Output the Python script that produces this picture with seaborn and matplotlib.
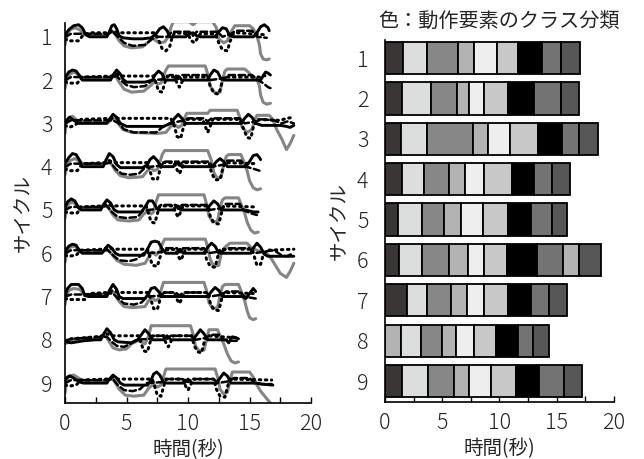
import numpy as np
import pandas as pd
import matplotlib
matplotlib.use("Agg")
import matplotlib.pyplot as plt
import seaborn as sns

# ---------------------------------------------------------------
# Sensor traces per cycle: (time [s], amplitude) pairs, amplitude > 0 is up
# ---------------------------------------------------------------
black_c1 = [(0,2),(0.3,7),(0.7,11),(1.1,12),(1.4,9),(1.7,2),(2.0,0),(3.4,0),(3.6,5),(3.8,11),(4.0,12),(4.2,8),(4.4,1),(4.7,-1),(5.5,-2),(6.3,-2),(7.0,-1),(7.4,3),(7.7,8),(8.0,10),(8.3,6),(8.5,0),(9.8,0),(10.1,3),(10.4,4),(10.7,1),(11.0,0),(12.2,0),(12.5,5),(12.8,9),(13.1,8),(13.4,1),(13.7,0),(15.3,0),(15.6,4),(15.9,10),(16.2,12),(16.5,9),(16.6,6)]
gray_c1 = [(0,-8),(0.15,0),(0.4,7),(0.8,9),(1.2,7),(1.6,2),(2.5,2),(3.4,2),(3.8,6),(4.1,2),(4.4,-4),(4.8,-9),(5.4,-11),(6.3,-10),(6.7,-6),(7.1,-1),(7.4,-4),(7.7,-6),(8.1,-5),(8.4,0),(8.6,9),(8.8,15),(10.1,15),(10.4,12),(10.7,15),(12.0,15),(12.3,9),(12.5,-2),(12.9,-6),(13.2,-4),(13.5,5),(13.8,11),(15.0,11),(15.3,8),(15.6,1),(15.8,-8),(15.9,-17),(16.1,-22),(16.4,-23),(16.6,-22)]
dotted_c1 = [(0,-2),(0.3,-4),(1.1,-4),(1.5,2),(2.0,4),(3.5,4),(3.9,6),(4.3,4),(7.3,4),(7.6,-3),(7.9,-12),(8.2,-14),(8.5,-10),(8.7,-1),(8.9,4),(10.0,3),(10.2,-3),(10.5,-6),(10.8,-1),(11.0,3),(12.2,3),(12.5,-6),(12.8,-13),(13.2,-14),(13.4,-5),(13.7,3),(14.0,4),(16.3,2)]
dashed_c1 = [(0,0),(0.5,3),(1.6,3),(3.5,3),(3.9,5),(4.3,0),(4.8,-6),(5.5,-9),(6.5,-8),(7.1,-2),(7.5,0),(8.3,0),(8.7,5),(10.1,5),(10.4,1),(10.7,5),(12.4,5),(12.8,0),(13.5,3),(13.9,6),(15.2,6),(15.6,0),(16.4,-1)]

black_c2 = [(0,2),(0.3,8),(0.6,10),(0.9,9),(1.2,4),(1.4,0),(3.7,0),(3.9,5),(4.2,10),(4.5,6),(4.7,1),(5.0,-2),(6.5,-2),(7.1,0),(7.3,5),(7.6,9),(7.9,6),(8.1,0),(8.9,0),(9.2,4),(9.5,0),(11.6,0),(11.8,5),(12.1,10),(12.4,8),(12.7,1),(13.0,0),(15.9,0),(16.1,4),(16.3,8),(16.5,7),(16.7,5)]
gray_c2 = [(0,-8),(0.15,0),(0.4,6),(0.8,8),(1.2,4),(1.5,2),(3.7,2),(4.1,4),(4.4,-2),(4.8,-9),(5.4,-12),(6.4,-11),(7.0,-5),(7.3,-1),(7.5,-4),(7.8,-3),(8.0,4),(8.2,10),(8.4,14),(11.4,14),(11.6,6),(11.8,-6),(12.2,-13),(12.6,-12),(12.8,0),(13.0,9),(13.2,11),(14.6,11),(14.9,8),(15.3,2),(15.6,1),(15.8,-6),(15.9,-15),(16.1,-22),(16.4,-24),(16.7,-23)]
dotted_c2 = [(0,-2),(0.3,-3),(1.0,-3),(1.4,3),(3.8,4),(4.2,6),(4.5,4),(7.2,4),(7.4,-3),(7.6,-11),(7.9,-12),(8.1,-3),(8.3,4),(8.9,3),(9.1,-3),(9.3,-7),(9.5,-2),(9.7,3),(11.6,3),(11.8,-6),(12.1,-13),(12.5,-14),(12.7,-5),(12.9,3),(15.8,3),(16.1,5),(16.5,3)]
dashed_c2 = [(0,0),(0.5,3),(3.8,3),(4.2,4),(4.6,-1),(5.0,-5),(5.6,-7),(6.5,-6),(7.1,0),(8.2,1),(8.5,5),(9.0,5),(9.2,1),(9.5,5),(11.5,5),(11.8,0),(13.0,2),(13.3,5),(15.2,5),(15.7,0),(16.1,-3),(16.5,-7),(16.7,-8)]

black_c3 = [(0,0),(0.2,4),(0.4,6),(0.7,3),(1.1,0),(3.4,0),(3.6,4),(3.9,9),(4.2,6),(4.5,0),(5.0,-3),(8.0,-3),(8.6,0),(8.9,5),(9.2,9),(9.5,5),(9.8,0),(14.3,0),(14.6,5),(14.9,9),(15.2,6),(15.5,0),(16.0,-2),(17.5,-2),(18.0,-3),(18.3,-4),(18.6,-2)]
gray_c3 = [(0,-10),(0.1,0),(0.3,6),(0.6,7),(1.0,3),(1.5,1),(3.5,1),(3.9,5),(4.3,0),(4.7,-6),(5.4,-9),(7.5,-10),(8.2,-9),(8.6,-3),(8.9,-1),(9.2,-4),(9.5,-2),(9.7,5),(9.9,10),(11.6,10),(11.8,13),(14.0,13),(14.2,6),(14.4,-4),(14.8,-9),(15.2,-6),(15.4,3),(15.6,8),(16.6,8),(16.9,4),(17.2,-6),(17.6,-15),(18.0,-26),(18.3,-20),(18.6,-12)]
dotted_c3 = [(0,-2),(0.3,-4),(0.8,-2),(1.3,4),(3.8,5),(4.3,5),(8.6,5),(8.9,-3),(9.1,-13),(9.4,-15),(9.6,-5),(9.9,4),(11.2,4),(11.4,-3),(11.6,-9),(11.8,-3),(12.0,4),(14.2,4),(14.5,-5),(14.8,-14),(15.1,-15),(15.3,-4),(15.6,4),(17.5,3),(18.0,5),(18.6,6)]
dashed_c3 = [(0,0),(0.5,3),(3.8,3),(4.3,1),(4.8,-6),(5.6,-9),(7.4,-9),(7.9,-4),(8.5,0),(9.7,3),(10.0,5),(11.3,5),(11.6,2),(11.9,5),(14.2,5),(14.6,0),(15.6,2),(16.0,4),(17.0,3),(17.6,0),(18.1,2),(18.6,0)]

black_c4 = [(0,3),(0.3,9),(0.6,13),(0.9,12),(1.2,6),(1.4,0),(3.1,0),(3.3,6),(3.6,13),(3.9,10),(4.2,2),(4.5,-1),(6.3,-1),(6.7,2),(6.9,7),(7.2,10),(7.5,6),(7.8,0),(8.8,0),(9.0,4),(9.2,5),(9.5,0),(12.0,0),(12.3,5),(12.6,8),(12.9,5),(13.2,0),(14.7,0),(15.0,5),(15.3,11),(15.6,12),(15.8,9),(15.9,7)]
gray_c4 = [(0,-8),(0.15,0),(0.4,6),(0.8,8),(1.2,5),(1.5,3),(3.1,3),(3.5,6),(3.8,2),(4.1,-4),(4.5,-9),(5.2,-11),(6.3,-10),(6.7,-4),(7.0,-1),(7.2,-4),(7.5,-3),(7.7,4),(7.9,12),(8.1,16),(11.6,16),(11.9,6),(12.1,-6),(12.4,-12),(12.7,-10),(12.9,2),(13.1,10),(13.3,12),(14.3,12),(14.5,6),(14.8,-4),(15.0,-14),(15.3,-21),(15.6,-23),(15.9,-22)]
dotted_c4 = [(0,-2),(0.3,-4),(1.0,-4),(1.4,3),(3.2,4),(3.6,6),(4.0,4),(6.7,4),(6.9,-4),(7.1,-12),(7.5,-13),(7.7,-4),(7.9,4),(8.9,4),(9.1,-3),(9.3,-7),(9.5,-2),(9.7,4),(11.7,4),(11.9,-6),(12.2,-13),(12.6,-13),(12.8,-3),(13.0,4),(15.5,3)]
dashed_c4 = [(0,0),(0.5,3),(3.3,3),(3.7,4),(4.1,-2),(4.6,-7),(5.3,-8),(6.0,-7),(6.5,-1),(7.0,0),(7.8,1),(8.1,5),(9.0,5),(9.3,1),(9.6,5),(11.7,5),(12.0,0),(12.9,2),(13.2,6),(14.3,6),(14.7,0),(15.3,-2),(15.8,-4)]

black_c5 = [(0,2),(0.2,8),(0.5,11),(0.8,9),(1.1,2),(1.3,0),(2.9,0),(3.1,5),(3.4,10),(3.7,7),(4.0,0),(4.3,-2),(6.2,-2),(6.5,3),(6.8,9),(7.1,9),(7.4,3),(7.6,0),(8.8,0),(9.0,3),(9.2,4),(9.4,0),(11.5,0),(11.8,5),(12.1,9),(12.4,6),(12.7,0),(14.6,0),(15.0,-1),(15.3,-2),(15.7,-2)]
gray_c5 = [(0,-8),(0.1,0),(0.3,6),(0.6,8),(1.0,4),(1.3,2),(2.9,2),(3.3,5),(3.6,1),(3.9,-5),(4.3,-10),(5.2,-11),(6.0,-10),(6.4,-4),(6.8,-1),(7.0,-4),(7.2,-2),(7.4,8),(7.6,15),(11.3,15),(11.5,6),(11.7,-6),(12.0,-12),(12.4,-11),(12.6,2),(12.8,10),(13.0,12),(14.1,12),(14.3,6),(14.6,-3),(14.8,-12),(15.1,-20),(15.4,-23),(15.7,-22)]
dotted_c5 = [(0,-2),(0.3,-3),(1.0,-3),(1.3,3),(3.0,4),(3.4,6),(3.8,4),(6.6,4),(6.8,-4),(7.0,-12),(7.3,-13),(7.5,-4),(7.7,4),(8.8,4),(9.0,-3),(9.2,-7),(9.4,-2),(9.6,4),(11.6,4),(11.8,-6),(12.1,-13),(12.5,-14),(12.7,-4),(12.9,4),(15.4,3)]
dashed_c5 = [(0,0),(0.5,3),(3.0,3),(3.4,4),(3.8,-2),(4.3,-7),(5.0,-8),(5.9,-7),(6.3,-1),(6.8,0),(7.5,1),(7.8,5),(9.0,5),(9.2,1),(9.5,5),(11.5,5),(11.8,0),(12.8,2),(13.0,6),(14.2,6),(14.5,0),(15.0,-3),(15.6,-5)]

black_c6 = [(0,2),(0.3,7),(0.6,9),(0.9,8),(1.2,2),(1.4,0),(3.0,0),(3.3,5),(3.5,8),(3.8,5),(4.1,0),(4.4,-2),(6.4,-2),(6.7,4),(7.0,11),(7.3,12),(7.6,11),(7.9,4),(8.2,0),(9.1,0),(9.35,4),(9.6,0),(11.3,0),(11.6,6),(11.9,10),(12.2,7),(12.5,0),(15.1,0),(15.3,5),(15.6,10),(15.9,6),(16.2,-1),(16.5,-3),(17.5,-3),(18.6,-3)]
gray_c6 = [(0,-9),(0.15,0),(0.4,6),(0.8,7),(1.2,3),(1.5,1),(3.0,1),(3.4,4),(3.8,-1),(4.2,-7),(4.8,-11),(5.8,-12),(6.5,-10),(6.8,-4),(7.1,1),(7.4,-2),(7.7,2),(7.9,9),(8.1,14),(11.4,14),(11.6,6),(11.8,-6),(12.1,-13),(12.5,-12),(12.7,0),(13.0,6),(13.4,10),(14.8,10),(15.1,6),(15.4,4),(15.8,2),(16.3,1),(16.7,-4),(17.1,-12),(17.5,-20),(18.0,-24),(18.3,-18),(18.6,-10)]
dotted_c6 = [(0,-2),(0.3,-3),(0.9,-2),(1.3,3),(3.1,4),(3.5,6),(3.9,4),(6.7,4),(6.9,-4),(7.1,-12),(7.5,-13),(7.7,-5),(7.9,3),(9.0,4),(9.2,-3),(9.4,-7),(9.6,-2),(9.8,4),(11.3,4),(11.5,-6),(11.8,-13),(12.2,-14),(12.4,-4),(12.6,4),(15.2,4),(15.4,-4),(15.6,-12),(15.9,-11),(16.1,-2),(16.4,3),(18.6,4)]
dashed_c6 = [(0,0),(0.5,3),(3.1,3),(3.5,3),(3.9,-2),(4.4,-7),(5.2,-8),(5.8,-6),(6.4,0),(7.8,1),(8.1,5),(9.1,5),(9.35,1),(9.6,5),(11.3,5),(11.6,0),(12.8,2),(13.2,5),(15.0,5),(15.4,0),(16.4,2),(17.0,3),(17.6,-2),(18.0,-3),(18.6,0)]

black_c7 = [(0,1),(0.2,8),(0.5,12),(1.1,12),(1.4,8),(1.6,1),(1.9,0),(3.4,0),(3.6,6),(3.9,12),(4.2,7),(4.4,0),(4.7,-2),(6.5,-2),(6.8,3),(7.0,8),(7.3,9),(7.6,5),(7.9,0),(11.6,0),(11.9,5),(12.2,9),(12.5,6),(12.8,0),(14.4,0),(14.7,-2),(15.0,3),(15.3,8),(15.5,5)]
gray_c7 = [(0,-8),(0.1,0),(0.3,6),(0.7,8),(1.2,7),(1.6,2),(3.4,2),(3.8,6),(4.1,1),(4.4,-5),(4.8,-10),(5.5,-11),(6.5,-10),(6.8,-4),(7.1,-1),(7.3,-4),(7.6,-3),(7.8,6),(8.0,14),(11.3,14),(11.5,6),(11.7,-6),(12.0,-12),(12.4,-11),(12.6,1),(12.8,10),(13.0,12),(14.1,12),(14.3,6),(14.6,-4),(14.8,-14),(15.0,-21),(15.3,-23),(15.5,-22)]
dotted_c7 = [(0,-2),(0.3,-3),(1.6,-3),(1.9,3),(3.5,4),(3.9,6),(4.3,4),(6.8,4),(7.0,-4),(7.2,-12),(7.5,-13),(7.7,-4),(7.9,4),(8.9,4),(9.1,-3),(9.3,-7),(9.5,-2),(9.7,4),(11.6,4),(11.8,-6),(12.1,-13),(12.5,-14),(12.7,-4),(12.9,4),(15.3,3)]
dashed_c7 = [(0,0),(0.5,2),(1.6,2),(3.5,3),(3.9,3),(4.3,-2),(4.8,-7),(5.6,-8),(6.2,-6),(6.7,0),(7.8,1),(8.1,4),(9.0,4),(9.3,1),(9.6,4),(11.5,4),(11.8,0),(12.8,2),(13.1,5),(14.2,5),(14.6,0),(15.0,-1),(15.5,-2)]

black_c8 = [(0,-2),(0.5,-3),(1.5,-1),(2.5,0),(2.9,0),(3.1,5),(3.4,11),(3.7,7),(4.0,0),(4.3,-2),(5.4,-3),(5.9,0),(6.2,5),(6.5,10),(6.8,6),(7.1,0),(8.0,0),(8.3,4),(8.6,0),(10.4,0),(10.7,5),(11.0,10),(11.3,6),(11.6,0),(13.1,0),(13.3,-3),(13.6,3),(13.9,2),(14.1,1)]
gray_c8 = [(0,-4),(0.3,-2),(1.0,0),(2.5,1),(2.9,2),(3.3,4),(3.6,-2),(3.9,-8),(4.4,-10),(5.0,-9),(5.4,-4),(5.9,-1),(6.2,-2),(6.5,-4),(6.8,4),(7.0,14),(10.2,14),(10.4,6),(10.6,-6),(10.9,-11),(11.3,-10),(11.5,0),(11.7,10),(12.4,10),(12.6,4),(12.9,-4),(13.2,-14),(13.5,-21),(13.8,-23),(14.1,-22)]
dotted_c8 = [(0,-1),(0.5,1),(1.5,2),(2.5,3),(3.0,4),(3.4,6),(3.8,4),(6.0,4),(6.2,-4),(6.4,-11),(6.7,-12),(6.9,-3),(7.1,4),(8.0,4),(8.2,-3),(8.4,-7),(8.6,-2),(8.8,4),(10.3,4),(10.5,-6),(10.8,-12),(11.1,-13),(11.3,-3),(11.5,4),(14.0,2)]
dashed_c8 = [(0,-1),(0.5,1),(3.0,3),(3.4,3),(3.8,-2),(4.2,-6),(4.8,-7),(5.3,-4),(5.8,0),(6.9,1),(7.2,4),(8.1,4),(8.3,1),(8.6,4),(10.3,4),(10.6,0),(11.5,2),(11.8,5),(12.5,5),(12.9,0),(13.5,-1),(14.0,-1)]

black_c9 = [(0,3),(0.2,6),(0.4,7),(0.7,5),(1.2,1),(1.5,0),(3.4,0),(3.6,4),(3.9,8),(4.2,5),(4.5,0),(4.8,-2),(6.7,-2),(7.0,3),(7.2,9),(7.45,11),(7.7,8),(8.0,1),(8.3,0),(9.7,0),(10.0,4),(10.3,0),(12.3,0),(12.6,5),(12.9,10),(13.2,7),(13.5,0),(15.5,0),(16.0,-1),(16.9,-2)]
gray_c9 = [(0,-10),(0.1,0),(0.3,7),(0.7,8),(1.1,5),(1.5,2),(3.4,2),(3.8,5),(4.1,0),(4.4,-6),(4.9,-12),(5.6,-13),(6.4,-12),(6.8,-5),(7.2,-1),(7.5,-4),(7.8,-2),(8.0,6),(8.2,14),(12.2,14),(12.4,6),(12.6,-6),(12.9,-11),(13.2,-9),(13.4,2),(13.6,11),(15.0,11),(15.3,6),(15.6,-2),(15.9,-8),(16.3,-14),(16.7,-20),(16.9,-23)]
dotted_c9 = [(0,-2),(0.3,-3),(0.9,-2),(1.3,3),(3.4,4),(3.9,6),(4.3,4),(7.1,4),(7.3,-4),(7.5,-12),(7.8,-13),(8.0,-4),(8.2,4),(9.6,4),(9.8,-3),(10.0,-7),(10.2,-2),(10.4,4),(12.1,4),(12.3,-6),(12.6,-13),(13.0,-14),(13.2,-4),(13.4,4),(16.8,3)]
dashed_c9 = [(0,0),(0.5,3),(3.4,3),(3.9,4),(4.3,-2),(4.8,-7),(5.5,-8),(6.1,-6),(6.6,0),(8.0,1),(8.3,4),(9.7,4),(10.0,1),(10.3,4),(12.1,4),(12.4,0),(13.4,2),(13.7,5),(15.0,5),(15.4,0),(16.0,-1),(16.8,-1)]

# ---------------------------------------------------------------
# Motion-element segmentation: boundaries [s] and class of each segment
# ---------------------------------------------------------------
seg_c1 = [0, 1.60, 3.70, 6.35, 7.80, 9.75, 11.65, 13.70, 15.43, 17.03]
seg_c2 = [0, 1.51, 3.99, 6.26, 7.36, 8.65, 10.72, 13.04, 15.43, 16.97]
seg_c3 = [0, 1.40, 3.70, 7.71, 9.02, 10.92, 13.39, 15.48, 16.94, 18.63]
seg_c4 = [0, 1.51, 3.43, 5.62, 6.99, 8.65, 11.12, 13.04, 14.61, 16.16]
seg_c5 = [0, 1.16, 3.20, 5.15, 6.64, 8.53, 10.72, 12.75, 14.61, 15.95]
seg_c6 = [0, 1.22, 3.20, 5.62, 7.22, 8.65, 10.63, 13.30, 15.57, 16.97, 18.86]
seg_c7 = [0, 1.89, 3.70, 5.73, 7.13, 8.65, 10.72, 12.75, 14.32, 15.87]
seg_c8 = [0, 1.40, 3.11, 4.95, 6.20, 7.77, 9.69, 11.59, 12.95, 14.35]
seg_c9 = [0, 1.46, 3.73, 6.03, 7.34, 9.23, 11.41, 13.48, 15.66, 17.26]

cls_std = [1, 2, 3, 4, 5, 6, 7, 8, 9]
cls_c6 = [1, 2, 3, 4, 5, 6, 7, 8, 4, 9]
cls_c8 = [4, 2, 3, 4, 5, 6, 7, 8, 9]

class_colors = {1: "#3b3636", 2: "#dcdddd", 3: "#878787", 4: "#b3b3b3",
                5: "#eeeeee", 6: "#c8c8c8", 7: "#000000", 8: "#737373",
                9: "#575757"}

cycles = [1, 2, 3, 4, 5, 6, 7, 8, 9]
x_ticks = [0, 2.5, 5, 7.5, 10, 12.5, 15, 17.5, 20]
x_labels = ["0", "", "5", "", "10", "", "15", "", "20"]

traces = {
    "gray": [gray_c1, gray_c2, gray_c3, gray_c4, gray_c5, gray_c6, gray_c7, gray_c8, gray_c9],
    "dashed": [dashed_c1, dashed_c2, dashed_c3, dashed_c4, dashed_c5, dashed_c6, dashed_c7, dashed_c8, dashed_c9],
    "dotted": [dotted_c1, dotted_c2, dotted_c3, dotted_c4, dotted_c5, dotted_c6, dotted_c7, dotted_c8, dotted_c9],
    "black": [black_c1, black_c2, black_c3, black_c4, black_c5, black_c6, black_c7, black_c8, black_c9],
}
segments = [seg_c1, seg_c2, seg_c3, seg_c4, seg_c5, seg_c6, seg_c7, seg_c8, seg_c9]
seg_classes = [cls_std, cls_std, cls_std, cls_std, cls_std, cls_c6, cls_std, cls_c8, cls_std]

# amplitude -> cycle-row units
AMP = 1.0 / 43.0

rows = []
for name, per_cycle in traces.items():
    for cyc, pts in zip(cycles, per_cycle):
        for k, (t, a) in enumerate(pts):
            rows.append({"trace": name, "cycle": cyc, "order": k,
                         "t": t, "y": cyc - a * AMP})
df = pd.DataFrame(rows)

sns.set_theme(style="white")
plt.rcParams["font.family"] = ["Noto Sans CJK JP", "DejaVu Sans"]
plt.rcParams["font.weight"] = "light"

fig = plt.figure(figsize=(6.44, 4.59), dpi=100)
ax1 = fig.add_axes([0.101, 0.122, 0.382, 0.828])
ax2 = fig.add_axes([0.598, 0.124, 0.355, 0.789])

styles = {
    "gray": dict(color="#858585", lw=2.2, ls="-"),
    "dashed": dict(color="black", lw=1.8, ls=(0, (2.6, 1.4))),
    "dotted": dict(color="black", lw=2.2, ls=(0, (0.5, 1.5))),
    "black": dict(color="black", lw=2.1, ls="-"),
}
for name, st in styles.items():
    sub = df[df["trace"] == name]
    sns.lineplot(data=sub, x="t", y="y", units="cycle", estimator=None,
                 sort=False, ax=ax1, color=st["color"], linewidth=st["lw"],
                 linestyle=st["ls"], dash_capstyle="round",
                 solid_capstyle="round", legend=False)

# segmented bars
for cyc, bounds, cls in zip(cycles, segments, seg_classes):
    starts = np.array(bounds[:-1])
    widths = np.diff(bounds)
    ax2.barh([cyc] * len(widths), widths, left=starts, height=0.8,
             color=[class_colors[c] for c in cls], edgecolor="black",
             linewidth=1.3)

tick_fs = 15.5
for ax, ylim in ((ax1, (9.46, 0.68)), (ax2, (9.52, 0.55))):
    ax.set_xlim(0, 20)
    ax.set_ylim(*ylim)
    ax.set_yticks(cycles)
    ax.set_yticklabels([str(c) for c in cycles], fontsize=tick_fs)
    ax.set_xticks(x_ticks)
    ax.set_xticklabels(x_labels, fontsize=tick_fs)
    ax.tick_params(axis="x", direction="in", length=4, width=1,
                   color="black", bottom=True, pad=7)
    ax.tick_params(axis="y", length=0, pad=9)
    for side in ("top", "right"):
        ax.spines[side].set_visible(False)
    for side in ("left", "bottom"):
        ax.spines[side].set_color("black")
        ax.spines[side].set_linewidth(1.2)
    ax.set_xlabel("時間(秒)", fontsize=14, labelpad=3)
    ax.set_ylabel("サイクル", fontsize=14, labelpad=5)
    ax.set_facecolor("white")

ax2.tick_params(axis="y", pad=12)
ax2.set_title("色：動作要素のクラス分類", fontsize=14.5, pad=9)

fig.savefig("out.png", dpi=100, facecolor="white")
